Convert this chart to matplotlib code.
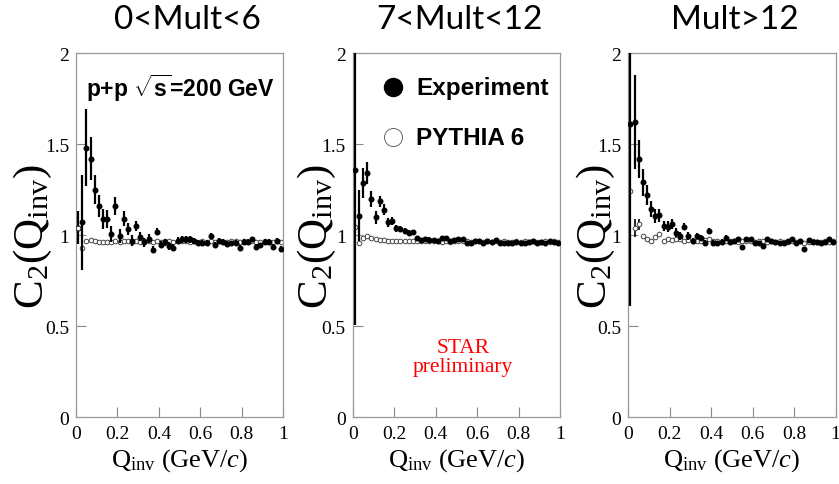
import numpy as np
import matplotlib.pyplot as plt

plt.rcParams['mathtext.fontset'] = 'custom'
plt.rcParams['mathtext.rm'] = 'Liberation Serif'
plt.rcParams['mathtext.it'] = 'Liberation Serif:italic'
plt.rcParams['mathtext.bf'] = 'Liberation Sans:bold'

# Q_inv bin centres (GeV/c)
q = np.arange(0.01, 1.0, 0.02)

# 0<Mult<6
exp1 = [1.04, 1.07, 1.48, 1.42, 1.25, 1.16, 1.09, 1.09, 1.005, 1.16,
        0.996, 1.09, 1.033, 0.97, 1.05, 0.99, 0.96, 0.98, 0.92, 1.018,
        0.947, 0.96, 0.94, 0.93, 0.97, 0.977, 0.977, 0.977, 0.968, 0.956,
        0.959, 0.959, 0.995, 0.945, 0.968, 0.962, 0.95, 0.955, 0.959, 0.931,
        0.962, 0.962, 0.977, 0.937, 0.944, 0.962, 0.962, 0.937, 0.968, 0.926]
err1 = [0.09, 0.26, 0.21, 0.12, 0.08, 0.06, 0.055, 0.05, 0.045, 0.05,
        0.04, 0.04, 0.035, 0.03, 0.03, 0.025, 0.025, 0.025, 0.02, 0.02,
        0.02, 0.02, 0.02, 0.02, 0.018, 0.018, 0.018, 0.018, 0.016, 0.016,
        0.016, 0.016, 0.016, 0.015, 0.015, 0.015, 0.015, 0.015, 0.015, 0.015,
        0.014, 0.014, 0.014, 0.014, 0.014, 0.014, 0.014, 0.014, 0.014, 0.014]
pyt1 = [1.04, 0.93, 0.965, 0.975, 0.965, 0.962, 0.962, 0.962, 0.962, 0.97,
        0.962, 0.965, 0.968, 0.962, 0.965, 0.962, 0.968, 0.965, 0.962, 0.965,
        0.962, 0.965, 0.965, 0.962, 0.965, 0.968, 0.965, 0.962, 0.965, 0.962,
        0.965, 0.962, 0.968, 0.962, 0.965, 0.962, 0.962, 0.965, 0.968, 0.962,
        0.965, 0.962, 0.965, 0.962, 0.962, 0.965, 0.962, 0.962, 0.965, 0.962]

# 7<Mult<12
exp2 = [1.357, 1.106, 1.286, 1.34, 1.198, 1.097, 1.185, 1.138, 1.07, 1.079,
        1.037, 1.033, 1.024, 1.011, 1.015, 0.982, 0.972, 0.978, 0.975, 0.972,
        0.965, 0.983, 0.982, 0.968, 0.972, 0.978, 0.978, 0.956, 0.956, 0.968,
        0.968, 0.956, 0.968, 0.962, 0.972, 0.959, 0.956, 0.956, 0.959, 0.962,
        0.959, 0.956, 0.962, 0.968, 0.959, 0.962, 0.955, 0.968, 0.962, 0.959]
err2 = [0.85, 0.14, 0.08, 0.06, 0.045, 0.037, 0.032, 0.03, 0.025, 0.022,
        0.02, 0.018, 0.017, 0.016, 0.015, 0.014, 0.013, 0.012, 0.012, 0.011,
        0.011, 0.01, 0.01, 0.01, 0.01, 0.01, 0.01, 0.01, 0.01, 0.01,
        0.01, 0.01, 0.01, 0.01, 0.01, 0.01, 0.01, 0.01, 0.01, 0.01,
        0.01, 0.01, 0.01, 0.01, 0.01, 0.01, 0.01, 0.01, 0.01, 0.01]
pyt2 = [1.042, 0.956, 0.983, 0.996, 0.985, 0.978, 0.975, 0.972, 0.968, 0.97,
        0.968, 0.968, 0.968, 0.968, 0.968, 0.965, 0.968, 0.968, 0.965, 0.968,
        0.965, 0.962, 0.968, 0.962, 0.968, 0.965, 0.965, 0.965, 0.962, 0.965,
        0.968, 0.962, 0.965, 0.962, 0.968, 0.962, 0.965, 0.962, 0.962, 0.965,
        0.962, 0.965, 0.962, 0.965, 0.962, 0.962, 0.965, 0.962, 0.965, 0.962]

# Mult>12
exp3 = [1.613, 1.622, 1.42, 1.289, 1.219, 1.142, 1.105, 1.109, 1.05, 1.047,
        1.06, 1.014, 0.995, 1.047, 0.995, 0.968, 0.995, 0.986, 0.959, 1.023,
        0.959, 0.955, 0.964, 0.986, 0.962, 0.968, 0.98, 0.935, 0.98, 0.977,
        0.959, 0.959, 0.94, 0.977, 0.968, 0.962, 0.959, 0.959, 0.968, 0.98,
        0.959, 0.968, 0.926, 0.972, 0.964, 0.964, 0.955, 0.962, 0.977, 0.964]
err3 = [1.0, 0.26, 0.105, 0.075, 0.055, 0.045, 0.04, 0.035, 0.03, 0.03,
        0.028, 0.025, 0.022, 0.02, 0.02, 0.018, 0.018, 0.016, 0.016, 0.015,
        0.014, 0.014, 0.013, 0.013, 0.012, 0.012, 0.012, 0.012, 0.011, 0.011,
        0.011, 0.011, 0.011, 0.011, 0.01, 0.01, 0.01, 0.01, 0.01, 0.01,
        0.01, 0.01, 0.01, 0.01, 0.01, 0.01, 0.01, 0.01, 0.01, 0.01]
pyt3 = [1.243, 1.037, 1.06, 0.995, 0.977, 0.968, 0.99, 1.005, 0.968, 0.98,
        0.972, 0.98, 0.977, 0.968, 0.975, 0.965, 0.968, 0.965, 0.975, 0.978,
        0.968, 0.965, 0.962, 0.965, 0.965, 0.968, 0.962, 0.965, 0.968, 0.965,
        0.962, 0.965, 0.968, 0.962, 0.965, 0.962, 0.965, 0.962, 0.962, 0.965,
        0.962, 0.965, 0.959, 0.962, 0.965, 0.962, 0.962, 0.965, 0.962, 0.965]
pyt_err3 = [0.04, 0.05, 0.03] + [0.0] * 47

titles = ['0<Mult<6', '7<Mult<12', 'Mult>12']
exps = [exp1, exp2, exp3]
errs = [err1, err2, err3]
pyts = [pyt1, pyt2, pyt3]

fig = plt.figure(figsize=(8.39, 4.85), dpi=100)

lefts = [0.0906, 0.4204, 0.7489]
title_x = [0.223, 0.548, 0.876]
ylab_x = [0.039, 0.378, 0.710]
serif = 'Liberation Serif'

for i in range(3):
    ax = fig.add_axes([lefts[i], 0.138, 0.247, 0.7505])
    pe = pyt_err3 if i == 2 else None
    ax.errorbar(q, pyts[i], yerr=pe, fmt='o', ms=3.3, mfc='white', mec='#444444',
                mew=0.7, ecolor='black', elinewidth=1.2, capsize=0, zorder=2)
    ax.errorbar(q, exps[i], yerr=errs[i], fmt='o', ms=3.3, mfc='black', mec='black',
                ecolor='black', elinewidth=1.6, capsize=0, zorder=3)
    if i == 0:
        # first open point sits on top of the closed one
        ax.plot(q[:1], pyts[i][:1], 'o', ms=3.3, mfc='white', mec='#444444',
                mew=0.7, zorder=4)
    ax.set_xlim(0, 1.0)
    ax.set_ylim(0, 2)
    ax.set_xticks([0, 0.2, 0.4, 0.6, 0.8, 1.0])
    ax.set_xticklabels(['0', '0.2', '0.4', '0.6', '0.8', '1'])
    ax.set_yticks([0, 0.5, 1, 1.5, 2])
    ax.set_yticklabels(['0', '0.5', '1', '1.5', '2'])
    ax.tick_params(direction='in', length=7, width=0.8, color='#888888',
                   labelsize=14)
    ax.tick_params(axis='x', pad=6)
    ax.tick_params(axis='y', pad=5)
    for lab in ax.get_xticklabels() + ax.get_yticklabels():
        lab.set_fontfamily(serif)
    for sp in ax.spines.values():
        sp.set_color('#999999')
        sp.set_linewidth(0.9)
    ax.set_xlabel(r'Q$_{\rm inv}$ (GeV/$c$)', fontsize=19, family=serif, labelpad=3)
    fig.text(title_x[i], 0.958, titles[i], fontsize=24, family='Lato',
             ha='center', va='center')
    fig.text(ylab_x[i], 0.512, r'C$_2$(Q$_{\rm inv}$)', fontsize=31, family=serif,
             rotation=90, ha='center', va='center')
    if i == 0:
        ax.text(0.05, 0.905, r'p+p $\mathbf{\sqrt{s}}$=200 GeV', transform=ax.transAxes,
                fontsize=16.5, fontweight='bold', family='Liberation Sans',
                ha='left', va='center')
    if i == 1:
        ax.plot([0.194], [1.813], 'o', ms=13, mfc='black', mec='black')
        ax.text(0.305, 1.813, 'Experiment', fontsize=17.5, fontweight='bold',
                family='Liberation Sans', ha='left', va='center')
        ax.plot([0.194], [1.538], 'o', ms=13, mfc='white', mec='#666666', mew=0.7)
        ax.text(0.305, 1.538, 'PYTHIA 6', fontsize=17.5, fontweight='bold',
                family='Liberation Sans', ha='left', va='center')
        ax.text(0.532, 0.33, 'STAR\npreliminary', color='red', fontsize=15.5,
                family=serif, ha='center', va='center', linespacing=1.0)

plt.savefig('out.png', dpi=100)
